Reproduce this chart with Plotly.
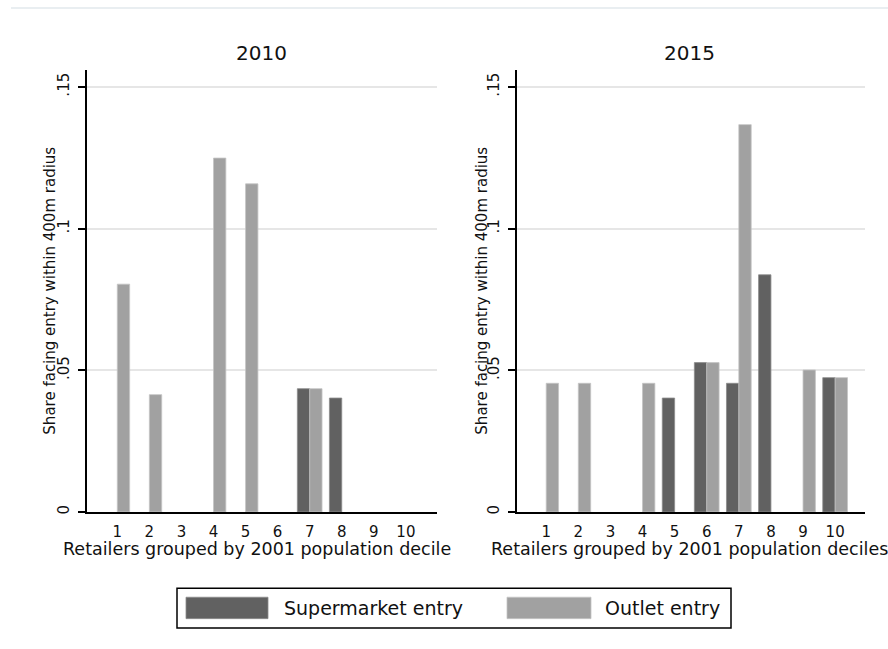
import plotly.graph_objects as go

# Share of retailers facing entry within a 400m radius, by 2001 population decile
deciles = [1, 2, 3, 4, 5, 6, 7, 8, 9, 10]
tick_labels = ["1", "2", "3", "4", "5", "6", "7", "8", "9", "10"]

supermarket_2010 = [None, None, None, None, None, None, 0.0435, 0.0402, None, None]
outlet_2010 = [0.0804, 0.0414, None, 0.1249, 0.1158, None, 0.0435, None, None, None]

supermarket_2015 = [None, None, None, None, 0.0402, 0.0527, 0.0454, 0.0837, None, 0.0474]
outlet_2015 = [0.0454, 0.0454, None, 0.0454, None, 0.0527, 0.1367, None, 0.0501, 0.0474]

y_tick_vals = [0, 0.05, 0.1, 0.15]
y_tick_text = ["0", ".05", ".1", ".15"]

panel_titles = ["2010", "2015"]
x_titles = ["Retailers grouped by 2001 population decile",
            "Retailers grouped by 2001 population deciles"]
y_title = "Share facing entry within 400m radius"
legend_names = ["Supermarket entry", "Outlet entry"]

DARK = "#616161"
LIGHT = "#a1a1a1"
FONT = "DejaVu Sans"
TEXT = "#111111"

W, H = 888, 649


def px_x(v):
    return v / W


def px_y(v):
    return 1 - v / H


fig = go.Figure()

panels = [
    (supermarket_2010, outlet_2010, "x", "y"),
    (supermarket_2015, outlet_2015, "x2", "y2"),
]
for sup, out, xa, ya in panels:
    fig.add_trace(go.Bar(x=deciles, y=sup, name=legend_names[0], xaxis=xa, yaxis=ya,
                         marker=dict(color=DARK, line=dict(color="#8c8c8c", width=0.8)),
                         showlegend=False))
    fig.add_trace(go.Bar(x=deciles, y=out, name=legend_names[1], xaxis=xa, yaxis=ya,
                         marker=dict(color=LIGHT, line=dict(color="#c4c4c4", width=0.8)),
                         showlegend=False))

y_dom = [px_y(514.3), px_y(70)]
x_common = dict(tickmode="array", tickvals=deciles, ticktext=tick_labels,
                showline=True, linecolor="black", linewidth=1.6, ticks="",
                ticklabelstandoff=5,
                showgrid=False, zeroline=False,
                tickfont=dict(family=FONT, size=15, color=TEXT))
y_common = dict(range=[0, 0.1561], tickmode="array", tickvals=y_tick_vals,
                ticktext=y_tick_text, tickangle=-90, showline=True, linecolor="black",
                linewidth=1.6, ticks="outside", ticklen=7, tickwidth=1.5,
                ticklabelstandoff=3,
                tickcolor="black", showgrid=True, gridcolor="#e6e6e6", gridwidth=1.5,
                zeroline=False, domain=y_dom,
                tickfont=dict(family=FONT, size=15, color=TEXT))

fig.update_layout(
    width=W, height=H,
    margin=dict(l=0, r=0, t=0, b=0),
    paper_bgcolor="white", plot_bgcolor="white",
    barmode="group", bargap=0.23, bargroupgap=0,
    xaxis=dict(x_common, domain=[px_x(87), px_x(437)], range=[0.055, 10.97], anchor="y"),
    xaxis2=dict(x_common, domain=[px_x(517), px_x(865)], range=[0.09, 10.93], anchor="y2"),
    yaxis=dict(y_common, anchor="x"),
    yaxis2=dict(y_common, anchor="x2"),
    font=dict(family=FONT, color=TEXT),
)

annotations = []
# Panel titles
for cx, txt in zip([261, 689], panel_titles):
    annotations.append(dict(x=px_x(cx), y=px_y(53), xref="paper", yref="paper",
                            text=txt, showarrow=False, xanchor="center", yanchor="middle",
                            font=dict(family=FONT, size=20, color=TEXT)))
# X axis titles
for cx, txt in zip([257, 689], x_titles):
    annotations.append(dict(x=px_x(cx), y=px_y(552), xref="paper", yref="paper",
                            text=txt, showarrow=False, xanchor="center", yanchor="middle",
                            font=dict(family=FONT, size=17.5, color=TEXT)))
# Y axis titles
for cx in [50, 482]:
    annotations.append(dict(x=px_x(cx), y=px_y(292), xref="paper", yref="paper",
                            text=y_title, showarrow=False, textangle=-90,
                            xanchor="center", yanchor="middle",
                            font=dict(family=FONT, size=15, color=TEXT)))

# Legend box with wide swatches
shapes = [
    dict(type="line", xref="paper", yref="paper", x0=px_x(11), x1=1, y0=px_y(8), y1=px_y(8),
         line=dict(color="#e9eef1", width=2)),
    dict(type="rect", xref="paper", yref="paper", x0=px_x(177), x1=px_x(731),
         y0=px_y(631), y1=px_y(591), line=dict(color="black", width=1.5), fillcolor="white"),
    dict(type="rect", xref="paper", yref="paper", x0=px_x(186), x1=px_x(268),
         y0=px_y(621.5), y1=px_y(600), line=dict(color="#8c8c8c", width=0.8), fillcolor=DARK),
    dict(type="rect", xref="paper", yref="paper", x0=px_x(507), x1=px_x(591),
         y0=px_y(621.5), y1=px_y(600), line=dict(color="#c4c4c4", width=0.8), fillcolor=LIGHT),
]
for lx, txt in zip([282, 603], legend_names):
    annotations.append(dict(x=px_x(lx), y=px_y(611), xref="paper", yref="paper",
                            text=txt, showarrow=False, xanchor="left", yanchor="middle",
                            font=dict(family=FONT, size=19, color=TEXT)))

fig.update_layout(annotations=annotations, shapes=shapes)

fig.write_html("out.html")
